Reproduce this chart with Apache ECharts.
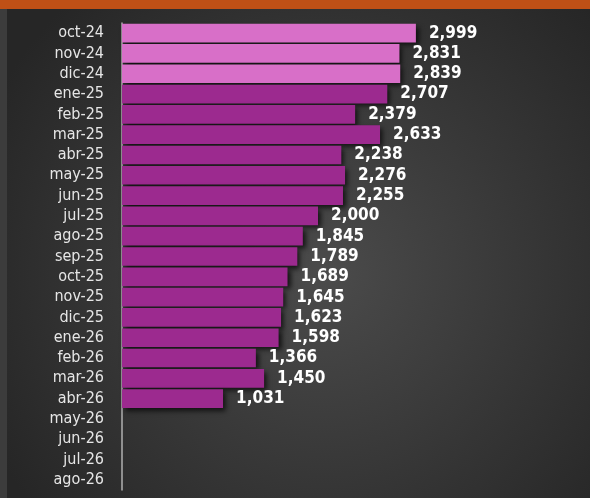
<!DOCTYPE html>
<html>
<head>
<meta charset="utf-8">
<script src="https://cdn.jsdelivr.net/npm/echarts@6/dist/echarts.min.js"></script>
<style>
  html, body { margin: 0; padding: 0; background: #2b2b2b; }
  #chart { width: 590px; height: 498px; }
</style>
</head>
<body>
<div id="chart"></div>
<script>
// meses, de arriba hacia abajo
const months = ['oct-24', 'nov-24', 'dic-24', 'ene-25', 'feb-25', 'mar-25', 'abr-25', 'may-25',
    'jun-25', 'jul-25', 'ago-25', 'sep-25', 'oct-25', 'nov-25', 'dic-25', 'ene-26',
    'feb-26', 'mar-26', 'abr-26', 'may-26', 'jun-26', 'jul-26', 'ago-26'];
const values = [2999, 2831, 2839, 2707, 2379, 2633, 2238, 2276,
    2255, 2000, 1845, 1789, 1689, 1645, 1623, 1598,
    1366, 1450, 1031, null, null, null, null];
// los tres primeros meses van en rosa claro
const highlighted = ['oct-24', 'nov-24', 'dic-24'];

const narrow = '"DejaVu Sans Condensed", sans-serif';

const chart = echarts.init(document.getElementById('chart'));

const barData = values.map((v, i) => ({
    value: v,
    itemStyle: {
        color: highlighted.includes(months[i]) ? '#d86fc8' : '#9c2a8f'
    }
}));

chart.setOption({
    backgroundColor: {
        type: 'radial', x: 0.55, y: 0.55, r: 0.75,
        colorStops: [
            { offset: 0, color: '#4b4b4b' },
            { offset: 1, color: '#262626' }
        ]
    },
    graphic: [
        { type: 'rect', left: 0, top: 0, shape: { width: 590, height: 9 }, style: { fill: '#bf5016' } },
        { type: 'rect', left: 0, top: 9, shape: { width: 7, height: 489 }, style: { fill: '#3c3c3c' } }
    ],
    grid: { left: 122, right: 174, top: 23, bottom: 8 },
    xAxis: {
        type: 'value',
        min: 0,
        max: 3000,
        show: false
    },
    yAxis: {
        type: 'category',
        inverse: true,
        data: months,
        axisLine: { show: true, lineStyle: { color: '#b0b0b0', width: 1.5 } },
        axisTick: { show: false },
        axisLabel: {
            interval: 0,
            color: '#e6e6e6',
            fontSize: 16,
            fontFamily: narrow,
            margin: 18
        }
    },
    series: [{
        type: 'bar',
        data: barData,
        barCategoryGap: '8%',
        itemStyle: {
            shadowColor: 'rgba(0,0,0,0.7)',
            shadowBlur: 5,
            shadowOffsetX: 3,
            shadowOffsetY: 3
        },
        label: {
            show: true,
            position: 'right',
            distance: 13,
            color: '#ffffff',
            fontSize: 17,
            fontWeight: 'bold',
            fontFamily: narrow,
            formatter: p => p.value == null ? '' : p.value.toLocaleString('en-US')
        }
    }]
});
</script>
</body>
</html>
